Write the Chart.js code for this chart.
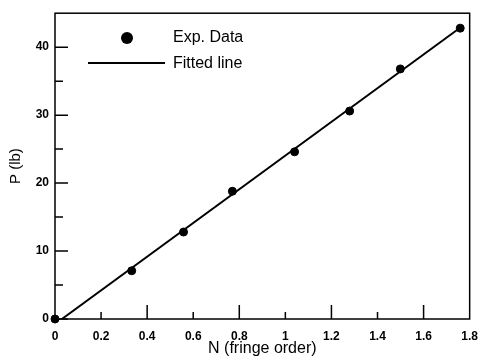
<!DOCTYPE html>
<html>
<head>
<meta charset="utf-8">
<script src="https://cdn.jsdelivr.net/npm/chart.js@4"></script>
<style>
  html, body { margin: 0; padding: 0; background: #fff; }
  #wrap { width: 488px; height: 358px; }
</style>
</head>
<body>
<div id="wrap"><canvas id="chart" width="488" height="358"></canvas></div>
<script>
const fringeOrder = [0, 0.333, 0.558, 0.77, 1.04, 1.279, 1.499, 1.759];
const loadLb = [0, 7.1, 12.8, 18.8, 24.6, 30.6, 36.8, 42.8];

// Fitted line end points
const fitN = [0.03, 1.76];
const fitP = [0, 42.9];

// Axis ticks
const xTickLabels = [0, 0.2, 0.4, 0.6, 0.8, 1, 1.2, 1.4, 1.6, 1.8];
const xMajorTicks = [0.4, 0.8, 1.2, 1.6];
const xMinorTicks = [0.2, 0.6, 1.0, 1.4];
const yTickLabels = [0, 10, 20, 30, 40];
const yMinorTicks = [5, 15, 25, 35];

const expData = fringeOrder.map((n, i) => ({ x: n, y: loadLb[i] }));
const fitData = fitN.map((n, i) => ({ x: n, y: fitP[i] }));

// Box around the plot, inside tick marks and the legend
const framePlugin = {
  id: 'frame',
  afterDatasetsDraw(chart) {
    const { ctx, chartArea: a, scales } = chart;
    ctx.save();
    ctx.strokeStyle = '#000';
    ctx.lineWidth = 1.5;
    ctx.strokeRect(a.left, a.top, a.right - a.left, a.bottom - a.top);

    ctx.beginPath();
    yTickLabels.forEach((v) => {
      const y = scales.y.getPixelForValue(v);
      ctx.moveTo(a.left, y); ctx.lineTo(a.left + 13, y);
    });
    yMinorTicks.forEach((v) => {
      const y = scales.y.getPixelForValue(v);
      ctx.moveTo(a.left, y); ctx.lineTo(a.left + 8, y);
    });
    xMajorTicks.forEach((v) => {
      const x = scales.x.getPixelForValue(v);
      ctx.moveTo(x, a.bottom); ctx.lineTo(x, a.bottom - 14);
    });
    xMinorTicks.forEach((v) => {
      const x = scales.x.getPixelForValue(v);
      ctx.moveTo(x, a.bottom); ctx.lineTo(x, a.bottom - 7);
    });
    ctx.stroke();

    // legend
    ctx.fillStyle = '#000';
    ctx.beginPath();
    ctx.arc(127, 38, 6, 0, Math.PI * 2);
    ctx.fill();
    ctx.lineWidth = 2;
    ctx.beginPath();
    ctx.moveTo(88, 63); ctx.lineTo(165, 63);
    ctx.stroke();
    ctx.font = '16px "Liberation Sans", Arial, sans-serif';
    ctx.textBaseline = 'middle';
    ctx.fillText('Exp. Data', 173, 38);
    ctx.fillText('Fitted line', 173, 64);
    ctx.restore();
  },
};

new Chart(document.getElementById('chart'), {
  type: 'scatter',
  data: {
    datasets: [
      {
        label: 'Exp. Data',
        data: expData,
        pointRadius: 4,
        pointBackgroundColor: '#000',
        pointBorderColor: '#000',
        clip: false,
      },
      {
        label: 'Fitted line',
        data: fitData,
        showLine: true,
        pointRadius: 0,
        borderColor: '#000',
        borderWidth: 2,
      },
    ],
  },
  options: {
    responsive: false,
    animation: false,
    layout: { padding: { top: 6, right: 12, left: 0, bottom: 0 } },
    plugins: { legend: { display: false }, tooltip: { enabled: false } },
    scales: {
      x: {
        type: 'linear',
        min: 0,
        max: 1.8,
        afterBuildTicks: (scale) => { scale.ticks = xTickLabels.map((v) => ({ value: v })); },
        afterFit: (scale) => { scale.height = 39; },
        grid: { display: false, drawTicks: false },
        border: { display: false },
        ticks: {
          color: '#000',
          padding: 10,
          maxRotation: 0,
          font: { family: '"Liberation Sans", Arial, sans-serif', size: 12, weight: 'bold' },
          callback: (v) => String(v),
        },
        title: {
          display: true,
          text: 'N (fringe order)',
          color: '#000',
          padding: { top: 0, bottom: 0 },
          font: { family: '"Liberation Sans", Arial, sans-serif', size: 16 },
        },
      },
      y: {
        min: 0,
        max: 45,
        afterBuildTicks: (scale) => { scale.ticks = yTickLabels.map((v) => ({ value: v })); },
        afterFit: (scale) => { scale.width = 55; },
        grid: { display: false, drawTicks: false },
        border: { display: false },
        ticks: {
          color: '#000',
          padding: 6,
          font: { family: '"Liberation Sans", Arial, sans-serif', size: 12, weight: 'bold' },
        },
        title: {
          display: true,
          text: 'P (lb)',
          color: '#000',
          padding: { top: 7, bottom: 0 },
          font: { family: '"Liberation Sans", Arial, sans-serif', size: 15 },
        },
      },
    },
  },
  plugins: [framePlugin],
});
</script>
</body>
</html>
